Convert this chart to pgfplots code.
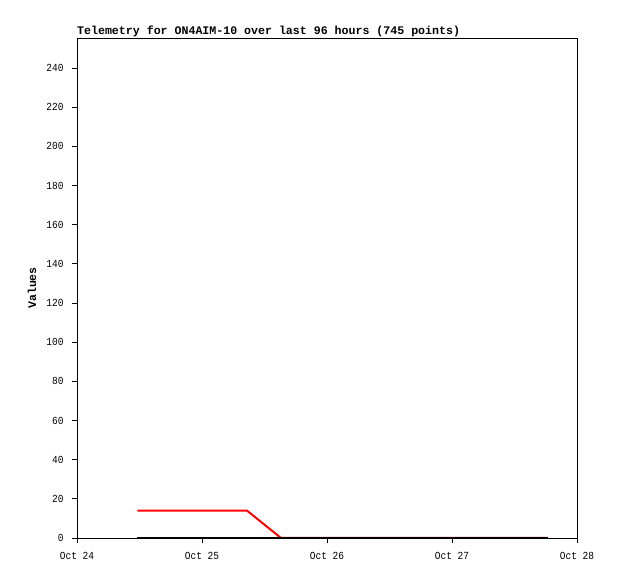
\documentclass[border=0pt]{standalone}
\usepackage{fontspec}
\setmainfont{Liberation Mono}
\newfontfamily\tickfont[FakeStretch=0.88]{Liberation Mono}
\usepackage{pgfplots}
\pgfplotsset{compat=1.18}
\begin{document}
\begin{tikzpicture}
\path[use as bounding box, fill=white] (0,0) rectangle (618bp,579bp);
\begin{axis}[
  at={(77bp,41bp)}, anchor=south west,
  scale only axis, width=500bp, height=500bp,
  xmin=0, xmax=4, ymin=0, ymax=255.3,
  xtick={0,1,2,3,4},
  xticklabels={Oct 24,Oct 25,Oct 26,Oct 27,Oct 28},
  ytick={0,20,...,240},
  tick align=outside, major tick length=5bp,
  xtick pos=bottom, ytick pos=left,
  axis line style={line width=0.8bp},
  tick style={line width=0.8bp, black},
  /pgf/number format/assume math mode=true,
  ticklabel style={font=\tickfont\fontsize{10.8bp}{12bp}\selectfont},
  xticklabel style={yshift=-6bp},
  yticklabel style={xshift=-5bp},
  every axis title shift=0pt,
  title={\textbf{Telemetry for ON4AIM-10 over last 96 hours (745 points)}},
  title style={at={(0,1)}, anchor=base west, inner sep=0pt, yshift=3.5bp, font=\fontsize{11.6bp}{13bp}\selectfont},
  ylabel={\textbf{Values}},
  ylabel style={at={(rel axis cs:-0.09,0.5)}, anchor=center, rotate=0, font=\fontsize{11.5bp}{13bp}\selectfont},
]
\addplot[red, line width=2bp] coordinates {(0.482,14) (1.36,14) (1.632,0) (3.768,0)};
\addplot[black, line width=2bp] coordinates {(0.482,0) (3.768,0)};
\end{axis}
\end{tikzpicture}
\end{document}
